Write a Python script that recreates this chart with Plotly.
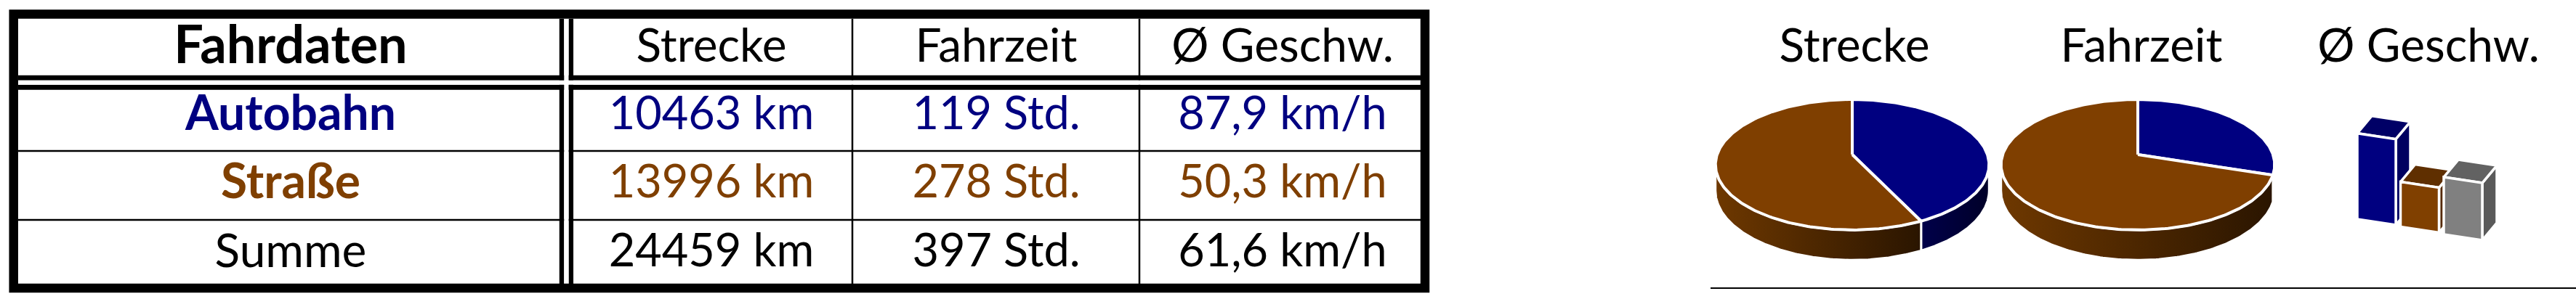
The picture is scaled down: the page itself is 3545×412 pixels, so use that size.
import numpy as np
import plotly.graph_objects as go

# ---------------- data ----------------
table_title = "Fahrdaten"
columns = ["Strecke", "Fahrzeit", "Ø Geschw."]
categories = ["Autobahn", "Straße", "Summe"]
strecke_km = [10463, 13996, 24459]
fahrzeit_std = [119, 278, 397]
geschw_kmh = [87.9, 50.3, 61.6]

# ---------------- style ----------------
W, H = 3545, 412
FONT = "Lato, 'Open Sans', sans-serif"
BLUE, BROWN, GREY = "#000080", "#7f3f00", "#808080"
row_colors = [BLUE, BROWN, "#000000"]
row_bold = [True, True, False]

col_x = [400, 979, 1371, 1765]          # text centres of table columns
row_y = [68.5, 162.5, 256.5, 351.5]      # text centres of table rows
chart_x = [2552, 2947, 3342]             # centres of the small charts
title_y = 69

fig = go.Figure()


def de(v, dec=None):
    s = f"{v:.{dec}f}" if dec is not None else f"{v}"
    return s.replace(".", ",")


# ---------------- table text ----------------
hdr_text = [f"<b>{table_title}</b>"] + columns
fig.add_trace(go.Scatter(
    x=col_x, y=[row_y[0]] * 4, mode="text", text=hdr_text,
    textfont=dict(family=FONT, size=[72, 64, 64, 64], color="black"),
    textposition="middle center", hoverinfo="skip", showlegend=False))

for i, cat in enumerate(categories):
    name = f"<b>{cat}</b>" if row_bold[i] else cat
    cells = [name,
             f"{strecke_km[i]} km",
             f"{fahrzeit_std[i]} Std.",
             f"{de(geschw_kmh[i], 1)} km/h"]
    fig.add_trace(go.Scatter(
        x=col_x, y=[row_y[i + 1]] * 4, mode="text", text=cells,
        textfont=dict(family=FONT, size=[66 if row_bold[i] else 64, 63, 63, 63],
                      color=row_colors[i]),
        textposition="middle center", hoverinfo="skip", showlegend=False))

# chart titles
fig.add_trace(go.Scatter(
    x=chart_x, y=[title_y] * 3, mode="text", text=columns,
    textfont=dict(family=FONT, size=64, color="black"),
    textposition="middle center", hoverinfo="skip", showlegend=False))

# ---------------- 3D pies ----------------
K = 0.155          # perspective strength
RX, RY = 186, 87.8
CY = 213
DEPTH = 35
th_r = np.arccos(-K)
th_l = 2 * np.pi - th_r


def proj(th, cx, drop=0.0):
    u, v = np.sin(th), -np.cos(th)
    s = 1.0 / (1.0 - K * v)
    return cx + RX * u * s, CY + RY * v * s + drop * s


def add_pie(values, cx):
    total = float(sum(values))
    cum = np.concatenate([[0], np.cumsum(values)]) / total * 2 * np.pi
    tops = [BLUE, BROWN]
    sides = [[[0, "#00004a"], [1, "#000028"]], [[0, "#6e3800"], [1, "#2a1500"]]]
    # side walls
    for i in range(len(values)):
        a0, a1 = max(cum[i], th_r), min(cum[i + 1], th_l)
        if a1 <= a0:
            continue
        t = np.linspace(a0, a1, 160)
        xt, yt = proj(t, cx)
        xb, yb = proj(t[::-1], cx, DEPTH)
        fig.add_trace(go.Scatter(
            x=np.concatenate([xt, xb, xt[:1]]), y=np.concatenate([yt, yb, yt[:1]]),
            mode="lines", fill="toself", line=dict(color="white", width=3),
            fillgradient=dict(type="horizontal", colorscale=sides[i]),
            hoverinfo="skip", showlegend=False))
    # top faces
    for i in range(len(values)):
        t = np.linspace(cum[i], cum[i + 1], 240)
        xa, ya = proj(t, cx)
        xs = np.concatenate([[cx], xa, [cx]])
        ys = np.concatenate([[CY], ya, [CY]])
        fig.add_trace(go.Scatter(
            x=xs, y=ys, mode="lines", fill="toself", fillcolor=tops[i],
            line=dict(color="white", width=4), hoverinfo="skip", showlegend=False))


add_pie(strecke_km[:2], chart_x[0] - 3)
add_pie(fahrzeit_std[:2], chart_x[1] - 5)

# ---------------- 3D bars ----------------
P0 = np.array([3244.0, 302.0])   # front-bottom-left of first bar
G = np.array([59.5, 10.5])       # step between bars
Wv = np.array([53.0, 8.0])       # front width vector
Dv = np.array([20.0, -24.0])     # depth vector
BASE, SCALE = 9.0, 1.5
front_c = [BLUE, "#804000", GREY]
top_c = ["#000066", "#5f2f00", "#626262"]
side_c = ["#000060", "#552a00", "#5a5a5a"]


def poly(pts, color):
    pts = np.array(pts + [pts[0]])
    fig.add_trace(go.Scatter(
        x=pts[:, 0], y=pts[:, 1], mode="lines", fill="toself", fillcolor=color,
        line=dict(color="white", width=3.5), hoverinfo="skip", showlegend=False))


for i, v in enumerate(geschw_kmh):
    P = P0 + i * G
    h = np.array([0.0, SCALE * (v - BASE)])
    poly([P + Wv, P + Wv + Dv, P + Wv + Dv - h, P + Wv - h], side_c[i])
    poly([P - h, P + Wv - h, P + Wv - h + Dv, P - h + Dv], top_c[i])
    poly([P, P + Wv, P + Wv - h, P - h], front_c[i])

# ---------------- table grid ----------------
shapes = []
def line(x0, y0, x1, y1, w, c="black"):
    shapes.append(dict(type="line", xref="x", yref="y", x0=x0, y0=y0, x1=x1, y1=y1,
                       line=dict(color=c, width=w), layer="below"))
def rect(x0, y0, x1, y1, c="white"):
    shapes.append(dict(type="rect", xref="x", yref="y", x0=x0, y0=y0, x1=x1, y1=y1,
                       fillcolor=c, line=dict(width=0), layer="below"))

IL, IR, IT, IB = 24.7, 1955, 26, 391
for yy in (208, 303):
    line(IL, yy, IR, yy, 2.5)
for xx in (1173, 1568):
    line(xx, IT, xx, IB, 2.5)
line(IL, 107.3, IR, 107.3, 7)
line(IL, 120.3, IR, 120.3, 7)
line(773, IT, 773, IB, 6.5)
line(785.8, IT, 785.8, IB, 6.5)
rect(IL, 110.8, IR, 116.8)
rect(776.3, IT, 782.5, IB)
shapes.append(dict(type="rect", xref="x", yref="y", x0=18.7, y0=19.5, x1=1961, y1=397,
                   line=dict(color="black", width=12.5), layer="below"))
line(2354, 397, 3545, 397, 2)

fig.update_layout(
    width=W, height=H, margin=dict(l=0, r=0, t=0, b=0),
    paper_bgcolor="white", plot_bgcolor="white", shapes=shapes,
    xaxis=dict(range=[0, W], visible=False, fixedrange=True),
    yaxis=dict(range=[H, 0], visible=False, fixedrange=True),
    showlegend=False)

fig.write_html("out.html", config={"displayModeBar": False, "staticPlot": True},
               post_script="document.body.style.margin='0px';")
